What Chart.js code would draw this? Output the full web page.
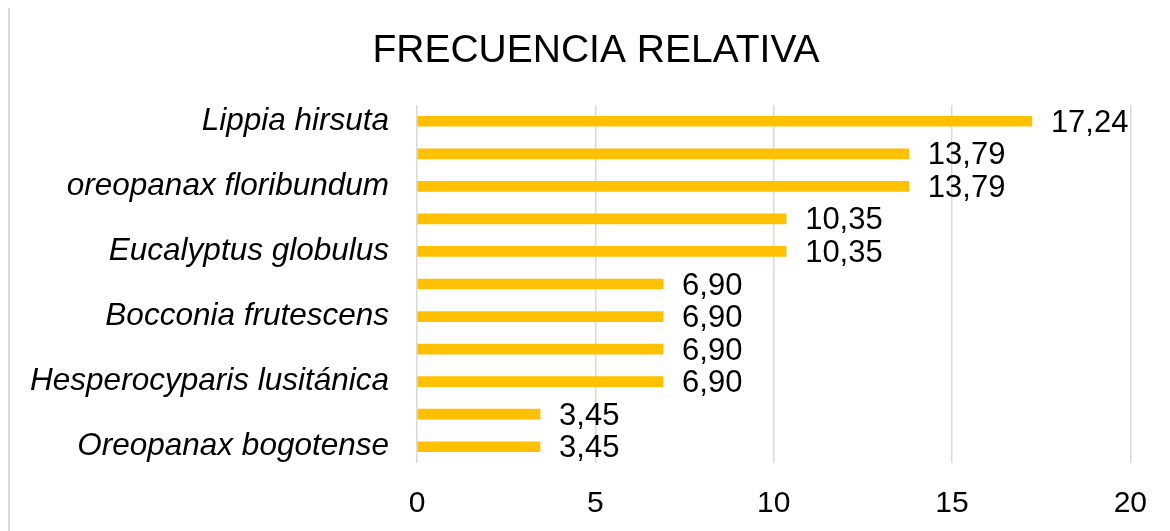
<!DOCTYPE html>
<html><head><meta charset="utf-8">
<script src="https://cdn.jsdelivr.net/npm/chart.js@4/dist/chart.umd.min.js"></script>
<style>
html,body{margin:0;padding:0;background:#fff;}
#frame{position:absolute;left:8px;top:8px;width:1162px;height:523px;border-left:2px solid #d9d9d9;}
#wrap{position:absolute;left:0;top:0;width:1170px;height:531px;}
</style></head><body>
<div id="frame"></div>
<div id="wrap"><canvas id="c"></canvas></div>
<script>
const categories = ["Lippia hirsuta", "", "oreopanax floribundum", "", "Eucalyptus globulus", "", "Bocconia frutescens", "", "Hesperocyparis lusitánica", "", "Oreopanax bogotense"];
const values = [17.24, 13.79, 13.79, 10.35, 10.35, 6.90, 6.90, 6.90, 6.90, 3.45, 3.45];
const xTicks = [0, 5, 10, 15, 20];
const titleText = "FRECUENCIA RELATIVA";
const FONT = '"Liberation Sans", Arial, sans-serif';

const labelPlugin = {
  id: 'valLabels',
  afterDatasetsDraw(chart) {
    const ctx = chart.ctx;
    const meta = chart.getDatasetMeta(0);
    ctx.save();
    ctx.font = '31px ' + FONT;
    ctx.fillStyle = '#000';
    ctx.textBaseline = 'middle';
    ctx.textAlign = 'left';
    meta.data.forEach((bar, i) => {
      ctx.fillText(values[i].toFixed(2).replace('.', ','), bar.x + 19, bar.y + 2);
    });
    ctx.restore();
  },
  afterDraw(chart) {
    const ctx = chart.ctx;
    ctx.save();
    ctx.font = '39px ' + FONT;
    ctx.fillStyle = '#000';
    ctx.textBaseline = 'middle';
    ctx.textAlign = 'center';
    ctx.fillText(titleText, 596, 51);
    ctx.restore();
  }
};

new Chart(document.getElementById('c'), {
  type: 'bar',
  data: { labels: categories, datasets: [{ data: values, backgroundColor: '#ffc000', barThickness: 10 }] },
  options: {
    indexAxis: 'y',
    responsive: true,
    maintainAspectRatio: false,
    animation: false,
    layout: { padding: { left: 0, right: 36, top: 105, bottom: 0 } },
    plugins: {
      legend: { display: false },
      tooltip: { enabled: false },
      title: { display: false }
    },
    scales: {
      x: {
        min: 0, max: 20,
        afterBuildTicks(scale) { scale.ticks = xTicks.map(v => ({ value: v })); },
        afterFit(scale) { scale.height = 68; },
        grid: { color: '#d9d9d9', lineWidth: 1.5, drawTicks: false },
        border: { display: false },
        ticks: { color: '#000', padding: 23, font: { family: FONT, size: 30 } }
      },
      y: {
        afterFit(scale) { scale.width = 417; },
        grid: { display: false },
        border: { display: false },
        ticks: { color: '#000', padding: 20, autoSkip: false,
          font: { family: FONT, size: 31.5, style: 'italic' } }
      }
    }
  },
  plugins: [labelPlugin]
});
</script>
</body></html>
